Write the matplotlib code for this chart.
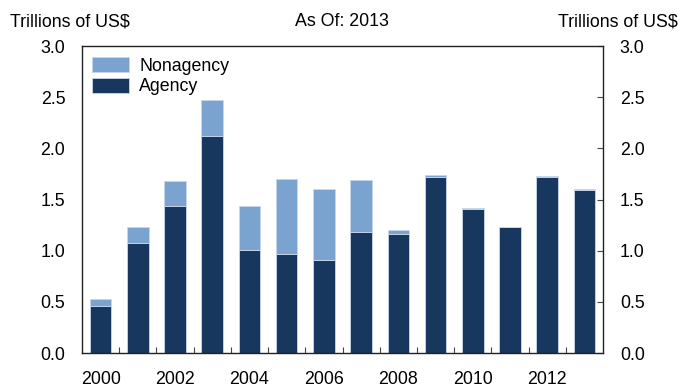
import matplotlib
matplotlib.use("Agg")
import matplotlib.pyplot as plt
import numpy as np

years = [2000, 2001, 2002, 2003, 2004, 2005, 2006, 2007, 2008, 2009, 2010, 2011, 2012, 2013]
agency = [0.46, 1.08, 1.44, 2.12, 1.01, 0.97, 0.91, 1.18, 1.16, 1.72, 1.41, 1.23, 1.72, 1.59]
total = [0.53, 1.23, 1.68, 2.47, 1.44, 1.70, 1.60, 1.69, 1.20, 1.74, 1.42, 1.235, 1.73, 1.60]
nonagency = [t - a for t, a in zip(total, agency)]
yticks = [0.0, 0.5, 1.0, 1.5, 2.0, 2.5, 3.0]
xlabels = [2000, 2002, 2004, 2006, 2008, 2010, 2012]

plt.rcParams['font.family'] = ['Liberation Sans', 'DejaVu Sans']
FS = 12.8

fig = plt.figure(figsize=(6.83, 3.88), dpi=100)
ax = fig.add_axes([0.120, 0.0902, 0.763, 0.791])

c_ag = '#17375e'
c_non = '#7ba3cf'
ax.bar(years, agency, width=0.58, color=c_ag, edgecolor='#c8d6e8', linewidth=0.6, label='Agency', zorder=2)
ax.bar(years, nonagency, bottom=agency, width=0.58, color=c_non, edgecolor='#c8d6e8', linewidth=0.6, label='Nonagency', zorder=2)

ax.set_xlim(1999.5, 2013.5)
ax.set_ylim(0, 3.0)

ax.set_yticks(yticks)
ax.set_yticklabels([f"{v:.1f}" for v in yticks])
ax.tick_params(axis='y', which='major', left=False, right=True, labelleft=True, labelright=True,
               direction='in', length=4, width=0.8, labelsize=FS, pad=12, color='#444444')

ax.set_xticks(xlabels)
ax.set_xticklabels([str(v) for v in xlabels])
ax.set_xticks(np.arange(2000.5, 2013.5, 1.0), minor=True)
ax.tick_params(axis='x', which='major', length=0, labelsize=FS, pad=13)
ax.tick_params(axis='x', which='minor', direction='in', length=4, width=0.8, color='#444444')
ax.tick_params(axis='y', which='minor', length=0)

for s in ax.spines.values():
    s.set_linewidth(1.0)
    s.set_color('#222222')

h, l = ax.get_legend_handles_labels()
ax.legend(h[::-1], l[::-1], loc='upper left', frameon=False, fontsize=FS,
          handlelength=2.1, handleheight=0.95, handletextpad=0.55, labelspacing=0.15,
          borderaxespad=0.0, borderpad=0.0, bbox_to_anchor=(10/521, 1 - 11/307))

fig.text(10/683, 1 - 22/388, 'Trillions of US$', ha='left', va='center', fontsize=FS)
fig.text(342/683, 1 - 22/388, 'As Of: 2013', ha='center', va='center', fontsize=FS)
fig.text(678/683, 1 - 22/388, 'Trillions of US$', ha='right', va='center', fontsize=FS)

fig.savefig('out.png', dpi=100)
